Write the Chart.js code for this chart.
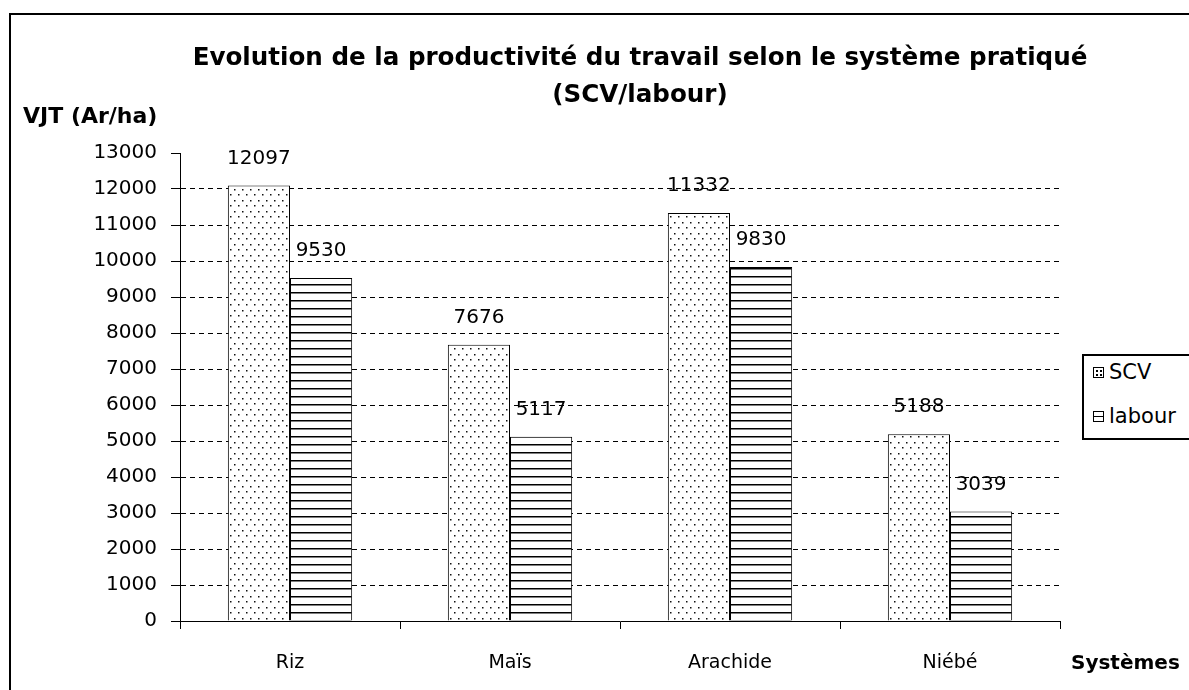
<!DOCTYPE html>
<html>
<head>
<meta charset="utf-8">
<script src="https://cdn.jsdelivr.net/npm/chart.js@4"></script>
<style>
html,body{margin:0;padding:0;background:#fff;overflow:hidden;}
#wrap{position:relative;width:1189px;height:690px;}
#frame{position:absolute;left:9px;top:13px;width:1300px;height:800px;border:2px solid #000;}
canvas{position:absolute;left:0;top:0;}
.txt{position:absolute;font-family:"DejaVu Sans",sans-serif;color:#000;white-space:nowrap;}
#title{left:0;width:1280px;text-align:center;top:38px;font-weight:bold;font-size:24.6px;line-height:37px;}
#ytitle{left:23px;top:103px;font-weight:bold;font-size:22px;}
#xtitle{left:1071px;top:650px;font-weight:bold;font-size:20px;}
#legend{position:absolute;left:1082px;top:354px;width:140px;height:82px;border:2px solid #000;background:#fff;}
.item{position:absolute;left:9px;font-family:"DejaVu Sans",sans-serif;font-size:21px;}
.sw{display:inline-block;width:9px;height:9px;border:1px solid #000;vertical-align:middle;margin-right:5px;position:relative;top:-1px;}
</style>
</head>
<body>
<div id="wrap">
  <div id="frame"></div>
  <canvas id="grafico" width="1189" height="690"></canvas>
  <div class="txt" id="title">Evolution de la productivité du travail selon le système pratiqué<br>(SCV/labour)</div>
  <div class="txt" id="ytitle">VJT (Ar/ha)</div>
  <div class="txt" id="xtitle">Systèmes</div>
  <div id="legend">
    <div class="item" style="top:4px"><span class="sw" style="background:radial-gradient(circle,#000 0.8px,transparent 1px) 1px 1px/4px 4px #fff"></span>SCV</div>
    <div class="item" style="top:48px"><span class="sw" style="background:linear-gradient(#fff 4px,#000 4px,#000 5px,#fff 5px)"></span>labour</div>
  </div>
</div>
<script>
const categories = ['Riz','Maïs','Arachide','Niébé'];
const scv = [12097, 7676, 11332, 5188];
const labour = [9530, 5117, 9830, 3039];
const yMin = 0, yMax = 13000, yStep = 1000;

function dotPattern(){
  const c = document.createElement('canvas');
  c.width = 8; c.height = 11;
  const x = c.getContext('2d');
  x.fillStyle = '#fff'; x.fillRect(0,0,8,11);
  x.fillStyle = '#111';
  x.fillRect(2,2,1.5,1.5);
  x.fillRect(6,7,1.5,1.5);
  return x.createPattern(c,'repeat');
}
function linePattern(){
  const c = document.createElement('canvas');
  c.width = 8; c.height = 8;
  const x = c.getContext('2d');
  x.fillStyle = '#fff'; x.fillRect(0,0,8,8);
  x.fillStyle = '#000';
  x.fillRect(0,4,8,1.5);
  return x.createPattern(c,'repeat');
}

const numFont = {family:'DejaVu Sans', size:20};

// valeurs au-dessus des barres
const valeurs = {
  id:'valeurs',
  afterDatasetsDraw(chart){
    const ctx = chart.ctx;
    ctx.save();
    ctx.font = '20px "DejaVu Sans"';
    ctx.fillStyle = '#000';
    ctx.textAlign = 'center';
    ctx.textBaseline = 'bottom';
    chart.data.datasets.forEach((ds,i)=>{
      chart.getDatasetMeta(i).data.forEach((bar,j)=>{
        ctx.fillText(ds.data[j], bar.x, bar.y - 17);
      });
    });
    ctx.restore();
  }
};

new Chart(grafico, {
  type:'bar',
  data:{
    labels: categories,
    datasets:[
      {label:'SCV', data:scv, backgroundColor:dotPattern(), borderColor:'#000', borderWidth:1},
      {label:'labour', data:labour, backgroundColor:linePattern(), borderColor:'#000', borderWidth:1}
    ]
  },
  options:{
    responsive:false,
    animation:false,
    events:[],
    layout:{padding:{top:153,right:129,bottom:0,left:0}},
    datasets:{bar:{categoryPercentage:0.565, barPercentage:1}},
    plugins:{legend:{display:false}, tooltip:{enabled:false}},
    scales:{
      x:{
        afterFit(s){ s.height = 69; },
        grid:{offset:true, drawOnChartArea:false, tickLength:8, tickColor:'#000'},
        border:{color:'#000', width:1},
        ticks:{color:'#000', font:{family:'DejaVu Sans', size:19}, padding:23}
      },
      y:{
        min:yMin, max:yMax,
        afterFit(s){ s.width = 180; },
        grid:{
          color:c => (c.tick && (c.tick.value===yMin || c.tick.value===yMax)) ? 'rgba(0,0,0,0)' : '#000',
          lineWidth:1,
          tickLength:9,
          tickColor:'#000',
          tickBorderDash:[]
        },
        border:{color:'#000', width:1, dash:[5,4]},
        ticks:{stepSize:yStep, color:'#000', font:numFont, padding:14, callback:v => String(v)}
      }
    }
  },
  plugins:[valeurs]
});
</script>
</body>
</html>
